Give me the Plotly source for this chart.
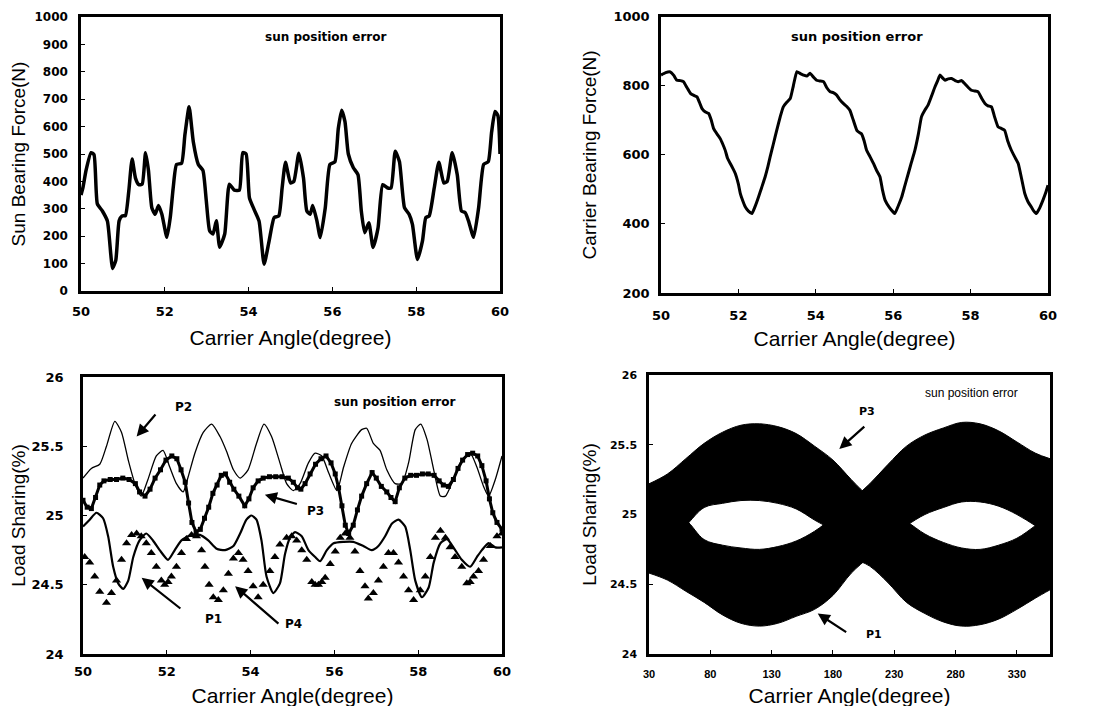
import plotly.graph_objects as go

# ---------------- Panel 1: sun bearing force ----------------
sun_angle = [50.0, 50.05, 50.12, 50.24, 50.31, 50.39, 50.51, 50.63, 50.71, 50.75, 50.83, 50.91, 50.98,
             51.06, 51.14, 51.22, 51.3, 51.38, 51.46, 51.54, 51.61, 51.69, 51.77, 51.85, 51.93, 52.05,
             52.13, 52.2, 52.28, 52.4, 52.48, 52.58, 52.68, 52.8, 52.91, 52.99, 53.07, 53.15, 53.23,
             53.31, 53.43, 53.54, 53.66, 53.78, 53.86, 53.94, 54.02, 54.13, 54.25, 54.37, 54.49, 54.61,
             54.72, 54.8, 54.88, 55.0, 55.08, 55.2, 55.31, 55.39, 55.47, 55.53, 55.63, 55.71, 55.83,
             55.94, 56.06, 56.14, 56.22, 56.3, 56.38, 56.5, 56.61, 56.69, 56.77, 56.87, 56.97, 57.09,
             57.2, 57.32, 57.4, 57.5, 57.6, 57.72, 57.83, 57.91, 58.03, 58.15, 58.23, 58.31, 58.43,
             58.54, 58.66, 58.74, 58.86, 58.98, 59.08, 59.17, 59.25, 59.37, 59.49, 59.61, 59.72, 59.8,
             59.88, 59.95, 60.0]
sun_force = [350, 380, 440, 505, 498, 318, 292, 255, 135, 82, 112, 256, 274,
             275, 364, 482, 412, 388, 390, 505, 440, 304, 280, 312, 280, 196,
             268, 376, 462, 466, 570, 672, 545, 462, 440, 330, 220, 208, 256,
             160, 208, 390, 368, 368, 505, 500, 340, 298, 255, 98, 183, 268,
             274, 376, 470, 394, 400, 503, 412, 292, 280, 312, 256, 195, 304,
             462, 472, 592, 660, 618, 500, 450, 425, 292, 213, 249, 159, 231,
             388, 376, 376, 510, 472, 304, 280, 243, 115, 183, 268, 274, 376,
             470, 394, 400, 505, 424, 292, 286, 255, 196, 304, 462, 472, 580,
             655, 640, 500]

# ---------------- Panel 2: carrier bearing force ----------------
car_angle = [50.0, 50.12, 50.24, 50.33, 50.41, 50.5, 50.58, 50.67, 50.76, 50.85, 50.93, 51.0, 51.06,
             51.15, 51.23, 51.3, 51.36, 51.45, 51.53, 51.6, 51.66, 51.72, 51.79, 51.86, 51.92, 52.0,
             52.05, 52.12, 52.18, 52.26, 52.35, 52.43, 52.52, 52.6, 52.69, 52.76, 52.82, 52.9, 52.99,
             53.08, 53.16, 53.25, 53.34, 53.42, 53.51, 53.6, 53.68, 53.77, 53.85, 53.94, 54.02, 54.1,
             54.2, 54.28, 54.37, 54.45, 54.54, 54.62, 54.71, 54.8, 54.88, 54.97, 55.06, 55.12, 55.18,
             55.25, 55.31, 55.4, 55.49, 55.57, 55.66, 55.72, 55.79, 55.9, 56.04, 56.13, 56.22, 56.3,
             56.39, 56.47, 56.56, 56.65, 56.73, 56.82, 56.9, 56.99, 57.08, 57.15, 57.21, 57.28, 57.34,
             57.42, 57.51, 57.6, 57.68, 57.77, 57.85, 57.94, 58.02, 58.1, 58.19, 58.28, 58.37, 58.45,
             58.54, 58.62, 58.71, 58.8, 58.88, 58.96, 59.05, 59.14, 59.23, 59.32, 59.4, 59.48, 59.57,
             59.63, 59.7, 59.78, 59.87, 59.94, 60.0]
car_force = [831, 838, 840, 830, 816, 815, 812, 795, 778, 772, 768, 750, 734,
             724, 720, 700, 676, 660, 647, 630, 613, 590, 575, 560, 546, 515,
             488, 465, 449, 437, 430, 450, 478, 505, 536, 565, 594, 630, 671,
             710, 739, 752, 763, 800, 841, 835, 831, 828, 836, 825, 816, 814,
             812, 795, 783, 780, 773, 760, 749, 740, 729, 700, 671, 665, 661,
             640, 614, 595, 575, 555, 536, 500, 469, 448, 430, 452, 478, 510,
             546, 578, 613, 660, 710, 730, 744, 770, 797, 815, 831, 822, 816,
             820, 821, 815, 812, 815, 806, 795, 787, 785, 783, 765, 749, 742,
             739, 710, 681, 676, 671, 640, 614, 594, 575, 530, 488, 465, 449,
             438, 430, 445, 469, 490, 512]

# ---------------- Panel 3: load sharing, 50-60 deg ----------------
p1_angle = [50.0, 50.16, 50.32, 50.48, 50.6, 50.72, 50.84, 50.96, 51.08, 51.2, 51.35, 51.51, 51.67,
            51.83, 52.03, 52.19, 52.35, 52.59, 52.79, 52.99, 53.19, 53.39, 53.59, 53.75, 53.9, 54.02,
            54.14, 54.26, 54.38, 54.54, 54.7, 54.82, 54.94, 55.06, 55.22, 55.38, 55.54, 55.66, 55.82,
            55.98, 56.22, 56.45, 56.69, 56.89, 57.05, 57.21, 57.37, 57.53, 57.69, 57.81, 57.93, 58.09,
            58.25, 58.37, 58.53, 58.69, 58.84, 59.04, 59.24, 59.4, 59.52, 59.68, 59.84, 60.0]
p1_share = [24.92, 24.97, 25.02, 24.98, 24.85, 24.63, 24.51, 24.47, 24.53, 24.70, 24.82, 24.87, 24.82,
            24.75, 24.68, 24.75, 24.82, 24.86, 24.86, 24.82, 24.76, 24.75, 24.78, 24.87, 24.97, 25.00,
            24.97, 24.82, 24.56, 24.44, 24.51, 24.72, 24.84, 24.88, 24.85, 24.75, 24.70, 24.67, 24.75,
            24.80, 24.81, 24.81, 24.78, 24.75, 24.78, 24.85, 24.94, 24.97, 24.92, 24.75, 24.53, 24.41,
            24.48, 24.66, 24.80, 24.83, 24.77, 24.68, 24.63, 24.70, 24.75, 24.80, 24.77, 24.77]

p2_angle = [50.0, 50.2, 50.4, 50.56, 50.76, 50.92, 51.08, 51.24, 51.39, 51.55, 51.75, 51.91, 52.07,
            52.23, 52.39, 52.51, 52.67, 52.87, 53.07, 53.27, 53.43, 53.59, 53.75, 53.94, 54.14, 54.32,
            54.5, 54.7, 54.86, 55.02, 55.18, 55.38, 55.54, 55.7, 55.86, 56.06, 56.22, 56.41, 56.65,
            56.77, 56.93, 57.09, 57.25, 57.45, 57.61, 57.77, 57.93, 58.06, 58.21, 58.37, 58.53, 58.65,
            58.84, 59.04, 59.24, 59.4, 59.56, 59.68, 59.84, 60.0]
p2_share = [25.27, 25.34, 25.37, 25.50, 25.68, 25.60, 25.40, 25.23, 25.14, 25.26, 25.43, 25.47, 25.35,
            25.23, 25.17, 25.28, 25.45, 25.60, 25.66, 25.57, 25.46, 25.33, 25.27, 25.33, 25.52, 25.66,
            25.57, 25.38, 25.23, 25.18, 25.23, 25.38, 25.45, 25.43, 25.31, 25.18, 25.35, 25.52, 25.62,
            25.63, 25.52, 25.47, 25.33, 25.23, 25.23, 25.38, 25.62, 25.66, 25.55, 25.33, 25.14, 25.14,
            25.26, 25.40, 25.45, 25.35, 25.21, 25.14, 25.26, 25.43]

p3_angle = [50.0, 50.1, 50.2, 50.3, 50.4, 50.5, 50.65, 50.8, 50.95, 51.1, 51.25, 51.35, 51.48,
            51.6, 51.72, 51.85, 51.98, 52.12, 52.24, 52.34, 52.44, 52.52, 52.6, 52.7, 52.8, 52.9,
            53.0, 53.1, 53.2, 53.3, 53.4, 53.5, 53.6, 53.72, 53.86, 53.96, 54.06, 54.18, 54.3,
            54.45, 54.6, 54.75, 54.9, 55.02, 55.12, 55.2, 55.3, 55.42, 55.55, 55.68, 55.8, 55.92,
            56.02, 56.1, 56.18, 56.26, 56.34, 56.45, 56.55, 56.65, 56.77, 56.9, 57.0, 57.12, 57.25,
            57.35, 57.45, 57.55, 57.68, 57.82, 57.96, 58.1, 58.24, 58.38, 58.5, 58.6, 58.72, 58.84,
            58.95, 59.06, 59.18, 59.3, 59.42, 59.52, 59.62, 59.7, 59.78, 59.88, 60.0]
p3_share = [25.11, 25.06, 25.05, 25.13, 25.22, 25.25, 25.26, 25.26, 25.27, 25.26, 25.23, 25.17, 25.14,
            25.19, 25.27, 25.33, 25.40, 25.43, 25.41, 25.33, 25.24, 25.09, 24.95, 24.88, 24.90, 24.98,
            25.06, 25.16, 25.22, 25.29, 25.30, 25.24, 25.19, 25.14, 25.07, 25.12, 25.20, 25.25, 25.27,
            25.28, 25.28, 25.28, 25.27, 25.24, 25.20, 25.19, 25.23, 25.30, 25.37, 25.41, 25.43, 25.38,
            25.30, 25.20, 25.07, 24.93, 24.87, 24.93, 25.04, 25.14, 25.23, 25.31, 25.27, 25.21, 25.17,
            25.13, 25.10, 25.20, 25.27, 25.29, 25.29, 25.30, 25.30, 25.29, 25.25, 25.22, 25.21, 25.26,
            25.34, 25.40, 25.44, 25.45, 25.43, 25.36, 25.25, 25.12, 25.02, 24.95, 24.90]

p4_angle = [50.04, 50.16, 50.28, 50.4, 50.56, 50.68, 50.8, 50.92, 51.04, 51.16, 51.28, 51.39, 51.51,
            51.63, 51.75, 51.87, 51.95, 52.03, 52.11, 52.23, 52.35, 52.47, 52.59, 52.71, 52.83, 52.91,
            53.01, 53.11, 53.23, 53.35, 53.47, 53.59, 53.71, 53.82, 53.94, 54.06, 54.18, 54.3, 54.46,
            54.58, 54.7, 54.86, 54.98, 55.1, 55.22, 55.34, 55.46, 55.54, 55.62, 55.7, 55.78, 55.9,
            56.02, 56.14, 56.26, 56.37, 56.49, 56.61, 56.73, 56.81, 56.93, 57.05, 57.17, 57.29, 57.41,
            57.53, 57.65, 57.77, 57.89, 58.05, 58.17, 58.29, 58.41, 58.53, 58.65, 58.76, 58.88, 59.04,
            59.16, 59.24, 59.32, 59.44, 59.56, 59.72, 59.88, 60.0]
p4_share = [24.70, 24.66, 24.56, 24.45, 24.37, 24.44, 24.53, 24.68, 24.80, 24.86, 24.87, 24.85, 24.80,
            24.73, 24.63, 24.53, 24.50, 24.52, 24.56, 24.63, 24.73, 24.83, 24.86, 24.85, 24.75, 24.63,
            24.50, 24.41, 24.39, 24.46, 24.58, 24.69, 24.73, 24.68, 24.60, 24.49, 24.41, 24.50, 24.60,
            24.70, 24.79, 24.84, 24.85, 24.82, 24.75, 24.68, 24.52, 24.50, 24.50, 24.52, 24.55, 24.65,
            24.74, 24.84, 24.87, 24.84, 24.74, 24.60, 24.49, 24.40, 24.44, 24.53, 24.63, 24.73, 24.73,
            24.66, 24.56, 24.46, 24.39, 24.46, 24.56, 24.70, 24.84, 24.89, 24.84, 24.77, 24.70, 24.63,
            24.51, 24.52, 24.56, 24.60, 24.68, 24.78, 24.85, 24.87]

# ---------------- Panel 4: load sharing, full revolution (oscillation envelopes) ----------------
env_angle = [30, 45, 60, 75, 90, 105, 120, 135, 150, 165, 180, 195, 210, 225, 240, 255, 270, 285,
             300, 315, 330, 345, 357]
p3_env_upper = [25.22, 25.29, 25.40, 25.51, 25.59, 25.64, 25.65, 25.63, 25.58, 25.49, 25.39, 25.25,
                25.12, 25.02, 24.95, 24.86, 24.80, 24.76, 24.75, 24.78, 24.83, 24.92, 25.00]
p3_env_lower = [24.68, 24.80, 24.92, 25.05, 25.08, 25.10, 25.10, 25.08, 25.04, 24.96, 24.88, 24.70,
                24.63, 24.51, 24.37, 24.29, 24.23, 24.20, 24.21, 24.25, 24.32, 24.40, 24.46]
p1_env_upper = [25.12, 25.02, 24.96, 24.82, 24.78, 24.76, 24.75, 24.77, 24.81, 24.88, 24.98, 25.10,
                25.22, 25.36, 25.49, 25.57, 25.62, 25.66, 25.65, 25.60, 25.52, 25.44, 25.40]
p1_env_lower = [24.58, 24.53, 24.45, 24.37, 24.28, 24.22, 24.20, 24.22, 24.27, 24.32, 24.42, 24.58,
                24.70, 24.82, 24.92, 25.00, 25.05, 25.09, 25.09, 25.06, 25.00, 24.92, 24.85]

# tick definitions
force1_ticks = [0, 100, 200, 300, 400, 500, 600, 700, 800, 900, 1000]
force2_ticks = [200, 400, 600, 800, 1000]
angle_ticks = [50, 52, 54, 56, 58, 60]
share_ticks = [24, 24.5, 25, 25.5, 26]
share_ticktext = ["24", "24.5", "25", "25.5", "26"]
rev_ticks = [30, 80, 130, 180, 230, 280, 330]

BLACK = "black"
W, H = 1094, 706
OFF = 8  # page offset of the figure inside the html body


def xdom(left_px, right_px):
    return [(left_px - OFF) / W, (right_px - OFF) / W]


def ydom(top_px, bottom_px):
    return [1 - (bottom_px - OFF) / H, 1 - (top_px - OFF) / H]


fig = go.Figure()

# Panel 1
fig.add_trace(go.Scatter(x=sun_angle, y=sun_force, mode="lines", xaxis="x", yaxis="y",
                         line=dict(color=BLACK, width=3.5, shape="spline", smoothing=0.5),
                         showlegend=False))
# Panel 2
fig.add_trace(go.Scatter(x=car_angle, y=car_force, mode="lines", xaxis="x2", yaxis="y2",
                         line=dict(color=BLACK, width=3, shape="spline", smoothing=0.4),
                         showlegend=False))
# Panel 3
fig.add_trace(go.Scatter(x=p2_angle, y=p2_share, mode="lines", xaxis="x3", yaxis="y3", name="P2",
                         line=dict(color=BLACK, width=1.3, shape="spline", smoothing=0.6),
                         showlegend=False))
fig.add_trace(go.Scatter(x=p1_angle, y=p1_share, mode="lines", xaxis="x3", yaxis="y3", name="P1",
                         line=dict(color=BLACK, width=2.2, shape="spline", smoothing=0.6),
                         showlegend=False))
fig.add_trace(go.Scatter(x=p3_angle, y=p3_share, mode="lines+markers", xaxis="x3", yaxis="y3", name="P3",
                         line=dict(color=BLACK, width=3),
                         marker=dict(symbol="square", size=5, color=BLACK),
                         showlegend=False))
fig.add_trace(go.Scatter(x=p4_angle, y=p4_share, mode="markers", xaxis="x3", yaxis="y3", name="P4",
                         marker=dict(symbol="triangle-up", size=8, color=BLACK),
                         showlegend=False))
# Panel 4 (oscillation bands)
fig.add_trace(go.Scatter(x=env_angle, y=p3_env_upper, mode="lines", xaxis="x4", yaxis="y4",
                         line=dict(color=BLACK, width=1, shape="spline"), showlegend=False))
fig.add_trace(go.Scatter(x=env_angle, y=p3_env_lower, mode="lines", xaxis="x4", yaxis="y4",
                         line=dict(color=BLACK, width=1, shape="spline"), fill="tonexty",
                         fillcolor=BLACK, showlegend=False))
fig.add_trace(go.Scatter(x=env_angle, y=p1_env_upper, mode="lines", xaxis="x4", yaxis="y4",
                         line=dict(color=BLACK, width=1, shape="spline"), showlegend=False))
fig.add_trace(go.Scatter(x=env_angle, y=p1_env_lower, mode="lines", xaxis="x4", yaxis="y4",
                         line=dict(color=BLACK, width=1, shape="spline"), fill="tonexty",
                         fillcolor=BLACK, showlegend=False))


def xax(domain, rng, tickvals, anchor, tsize, tfamily, lstand, tstand):
    return dict(domain=domain, range=rng, tickvals=tickvals, anchor=anchor,
                showline=True, mirror=True, linewidth=2.5, linecolor=BLACK,
                ticks="inside", ticklen=4, tickwidth=1.2, tickcolor=BLACK,
                showgrid=False, zeroline=False, automargin=False,
                ticklabelstandoff=lstand,
                tickfont=dict(family=tfamily, size=tsize, color=BLACK, weight="bold"),
                title=dict(text="Carrier Angle(degree)", standoff=tstand,
                           font=dict(family="Arial", size=21, color=BLACK)))


def yax(domain, rng, tickvals, anchor, tsize, title, tstand, lstand, ticktext=None, tfamily="DejaVu Sans"):
    d = dict(domain=domain, range=rng, tickvals=tickvals, anchor=anchor,
             showline=True, mirror=True, linewidth=2.5, linecolor=BLACK,
             ticks="inside", ticklen=4, tickwidth=1.2, tickcolor=BLACK,
             showgrid=False, zeroline=False, automargin=False,
             ticklabelstandoff=lstand,
             tickfont=dict(family=tfamily, size=tsize, color=BLACK, weight="bold"),
             title=dict(text=title, standoff=tstand,
                        font=dict(family="Arial", size=19, color=BLACK)))
    if ticktext is not None:
        d["ticktext"] = ticktext
    return d


fig.update_layout(
    width=W, height=H, template="none",
    margin=dict(l=0, r=0, t=0, b=0),
    paper_bgcolor="white", plot_bgcolor="white",
    font=dict(family="Arial", color=BLACK),
    showlegend=False,
    xaxis=xax(xdom(81, 500), [50, 60], angle_ticks, "y", 13, "DejaVu Sans", 7, 12),
    yaxis=yax(ydom(17, 291), [0, 1000], force1_ticks, "x", 12, "Sun Bearing Force(N)", 5, 8),
    xaxis2=xax(xdom(661, 1048), [50, 60], angle_ticks, "y2", 13, "DejaVu Sans", 9, 9),
    yaxis2=yax(ydom(16.7, 293), [200, 1000], force2_ticks, "x2", 13, "Carrier Bearing Force(N)", 12, 6),
    xaxis3=xax(xdom(83, 502), [50, 60], angle_ticks, "y3", 13, "DejaVu Sans", 4, 10),
    yaxis3=yax(ydom(377, 654), [24, 26], share_ticks, "x3", 13, "Load Sharing(%)", 3, 14,
               ticktext=share_ticktext),
    xaxis4=xax(xdom(649, 1050), [30, 357], rev_ticks, "y4", 11, "Arial", 8, 10),
    yaxis4=yax(ydom(375, 654), [24, 26], share_ticks, "x4", 11, "Load Sharing(%)", 9, 7,
               ticktext=share_ticktext),
)

ann_bold = dict(family="DejaVu Sans", size=12, color=BLACK, weight="bold")
annotations = [
    dict(x=55.84, y=927, xref="x", yref="y", text="sun position error", showarrow=False, font=ann_bold),
    dict(x=55.06, y=942, xref="x2", yref="y2", text="sun position error", showarrow=False,
         font=dict(family="DejaVu Sans", size=13, color=BLACK, weight="bold")),
    dict(x=57.45, y=25.82, xref="x3", yref="y3", text="sun position error", showarrow=False, font=ann_bold),
    dict(x=292.8, y=25.87, xref="x4", yref="y4", text="sun position error", showarrow=False,
         font=dict(family="Arial", size=12, color=BLACK)),
    # panel 3 labels
    dict(x=52.39, y=25.78, xref="x3", yref="y3", text="P2", showarrow=False, font=ann_bold),
    dict(x=55.54, y=25.03, xref="x3", yref="y3", text="P3", showarrow=False, font=ann_bold),
    dict(x=53.11, y=24.25, xref="x3", yref="y3", text="P1", showarrow=False, font=ann_bold),
    dict(x=55.03, y=24.22, xref="x3", yref="y3", text="P4", showarrow=False, font=ann_bold),
    # panel 4 labels
    dict(x=208, y=25.74, xref="x4", yref="y4", text="P3", showarrow=False,
         font=dict(family="DejaVu Sans", size=11, color=BLACK, weight="bold")),
    dict(x=213.5, y=24.14, xref="x4", yref="y4", text="P1", showarrow=False,
         font=dict(family="DejaVu Sans", size=11, color=BLACK, weight="bold")),
]
arrow_style = dict(showarrow=True, arrowhead=2, arrowsize=1.1, arrowwidth=2.2, arrowcolor=BLACK, text="")
arrows = [
    dict(x=51.28, y=25.57, ax=51.76, ay=25.74, xref="x3", yref="y3", axref="x3", ayref="y3"),
    dict(x=54.34, y=25.15, ax=55.14, ay=25.08, xref="x3", yref="y3", axref="x3", ayref="y3"),
    dict(x=51.40, y=24.55, ax=52.36, ay=24.32, xref="x3", yref="y3", axref="x3", ayref="y3"),
    dict(x=53.63, y=24.49, ax=54.70, ay=24.21, xref="x3", yref="y3", axref="x3", ayref="y3"),
    dict(x=185.2, y=25.47, ax=206.8, ay=25.64, xref="x4", yref="y4", axref="x4", ayref="y4"),
    dict(x=167.6, y=24.29, ax=192.0, ay=24.15, xref="x4", yref="y4", axref="x4", ayref="y4"),
]
for a in arrows:
    a.update(arrow_style)
fig.update_layout(annotations=annotations + arrows)

fig.write_html("out.html")
